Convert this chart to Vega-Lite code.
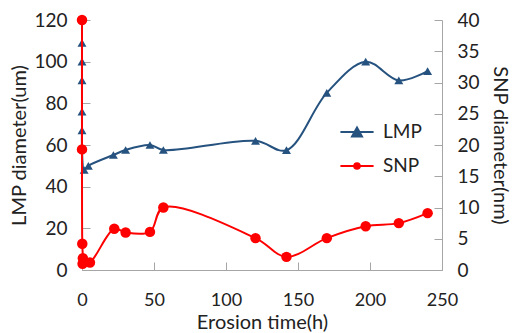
{
  "$schema": "https://vega.github.io/schema/vega-lite/v6.json",
  "width": 360,
  "height": 250,
  "autosize": {"type": "none"},
  "padding": {"left": 82, "top": 20, "right": 73, "bottom": 63},
  "config": {
    "font": "Lato",
    "view": {"stroke": null},
    "axis": {
      "labelFont": "Lato", "titleFont": "Lato",
      "labelFontSize": 19, "titleFontSize": 20, "titleFontWeight": "normal",
      "labelColor": "#222222", "titleColor": "#222222",
      "domainColor": "#a6a6a6", "tickColor": "#a6a6a6",
      "grid": false, "tickSize": -8, "labelFlush": false
    }
  },
  "data": {"values": [
    {"s": "LMP", "i": 1, "t": 0, "d": 109},
    {"s": "LMP", "i": 2, "t": 0, "d": 100},
    {"s": "LMP", "i": 3, "t": 0, "d": 91},
    {"s": "LMP", "i": 4, "t": 0, "d": 76},
    {"s": "LMP", "i": 5, "t": 0, "d": 67},
    {"s": "LMP", "i": 6, "t": 0, "d": 59},
    {"s": "LMP", "i": 7, "t": 1.5, "d": 48},
    {"s": "LMP", "i": 8, "t": 4.4, "d": 50},
    {"s": "LMP", "i": 9, "t": 21.8, "d": 55.2},
    {"s": "LMP", "i": 10, "t": 30.3, "d": 57.6},
    {"s": "LMP", "i": 11, "t": 47.2, "d": 60},
    {"s": "LMP", "i": 12, "t": 56.5, "d": 57.6},
    {"s": "LMP", "i": 13, "t": 120.5, "d": 62},
    {"s": "LMP", "i": 14, "t": 142, "d": 57.5},
    {"s": "LMP", "i": 15, "t": 170, "d": 85},
    {"s": "LMP", "i": 16, "t": 197, "d": 100},
    {"s": "LMP", "i": 17, "t": 220, "d": 91},
    {"s": "LMP", "i": 18, "t": 240, "d": 95.5},
    {"s": "SNP", "i": 1, "t": 0, "d": 40},
    {"s": "SNP", "i": 2, "t": 0, "d": 19.3},
    {"s": "SNP", "i": 3, "t": 0.2, "d": 4.2},
    {"s": "SNP", "i": 4, "t": 0.6, "d": 1.9},
    {"s": "SNP", "i": 5, "t": 0.4, "d": 1.0},
    {"s": "SNP", "i": 6, "t": 5.5, "d": 1.2},
    {"s": "SNP", "i": 7, "t": 22.4, "d": 6.6},
    {"s": "SNP", "i": 8, "t": 30.3, "d": 6.0},
    {"s": "SNP", "i": 9, "t": 47.2, "d": 6.1},
    {"s": "SNP", "i": 10, "t": 56.5, "d": 10.0},
    {"s": "SNP", "i": 11, "t": 120.5, "d": 5.1},
    {"s": "SNP", "i": 12, "t": 142, "d": 2.1},
    {"s": "SNP", "i": 13, "t": 170, "d": 5.1},
    {"s": "SNP", "i": 14, "t": 197, "d": 7.0},
    {"s": "SNP", "i": 15, "t": 220, "d": 7.5},
    {"s": "SNP", "i": 16, "t": 240, "d": 9.1}
  ]},
  "layer": [
    {
      "transform": [{"filter": "datum.s === 'LMP'"}],
      "encoding": {
        "x": {"field": "t", "type": "quantitative", "scale": {"domain": [0, 250], "nice": false},
              "axis": {"values": [0, 50, 100, 150, 200, 250], "title": "Erosion time(h)", "titleFontSize": 20, "labelFontSize": 18, "labelPadding": 29, "titlePadding": 3}},
        "y": {"field": "d", "type": "quantitative", "scale": {"domain": [0, 120], "nice": false},
              "axis": {"values": [0, 20, 40, 60, 80, 100, 120], "title": "LMP diameter(um)", "orient": "left", "labelPadding": 23, "titlePadding": 4}},
        "order": {"field": "i", "type": "quantitative"}
      },
      "layer": [
        {"mark": {"type": "line", "color": "#26527f", "strokeWidth": 2, "interpolate": "catmull-rom"}},
        {"mark": {"type": "point", "shape": "triangle-up", "filled": true, "opacity": 1, "color": "#26527f", "size": 80}},
        {
          "mark": {"type": "point", "filled": true, "opacity": 0, "strokeWidth": 2},
          "encoding": {
            "shape": {"field": "s", "type": "nominal", "title": null,
                      "scale": {"domain": ["LMP", "SNP"], "range": ["M-1,0H1M-0.3,0.27L0,-0.27L0.3,0.27Z", "M-1,0H1M-0.17,0A0.17,0.17 0 1,1 0.17,0A0.17,0.17 0 1,1 -0.17,0Z"]},
                      "legend": {"orient": "none", "legendX": 257, "legendY": 94, "symbolSize": 1100, "symbolOpacity": 1, "symbolStrokeWidth": 2, "labelFontSize": 19, "labelFont": "Lato", "labelColor": "#222222", "labelOffset": 8, "rowPadding": 6}},
            "color": {"field": "s", "type": "nominal", "title": null,
                      "scale": {"domain": ["LMP", "SNP"], "range": ["#26527f", "#ff0000"]}},
            "stroke": {"field": "s", "type": "nominal", "title": null,
                      "scale": {"domain": ["LMP", "SNP"], "range": ["#26527f", "#ff0000"]}}
          }
        }
      ]
    },
    {
      "transform": [{"filter": "datum.s === 'SNP'"}],
      "encoding": {
        "x": {"field": "t", "type": "quantitative"},
        "y": {"field": "d", "type": "quantitative", "scale": {"domain": [0, 40], "nice": false},
              "axis": {"values": [0, 5, 10, 15, 20, 25, 30, 35, 40], "title": "SNP diameter(nm)", "orient": "right", "labelPadding": 23, "titlePadding": 10}},
        "order": {"field": "i", "type": "quantitative"}
      },
      "layer": [
        {"mark": {"type": "line", "color": "#ff0000", "strokeWidth": 2, "interpolate": "catmull-rom"}},
        {"mark": {"type": "point", "shape": "circle", "filled": true, "opacity": 1, "color": "#ff0000", "size": 110}}
      ]
    }
  ],
  "resolve": {"scale": {"y": "independent"}}
}
